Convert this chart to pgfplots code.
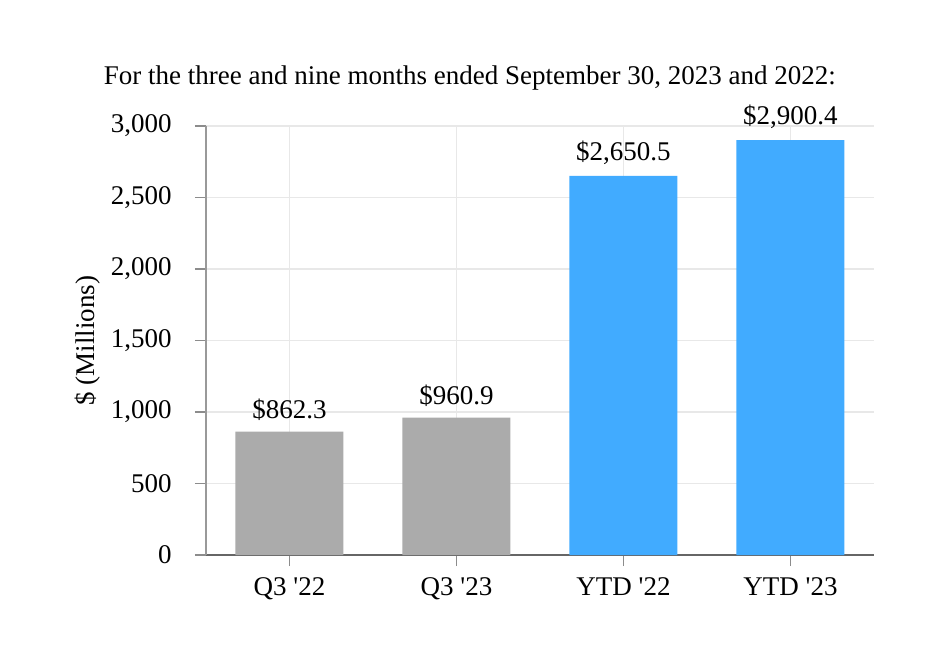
\documentclass[border=0pt]{standalone}
\usepackage{fontspec}
\setmainfont{Liberation Serif}
\usepackage{pgfplots}
\pgfplotsset{compat=1.18}
\definecolor{bargray}{HTML}{ABABAB}
\definecolor{barblue}{HTML}{41ABFF}
\definecolor{gridc}{HTML}{E8E8E8}
\newcommand{\q}{\textquotesingle}
\begin{document}
\fontsize{13.5}{16}\selectfont
\begin{tikzpicture}
  % 1 px of the reference = 0.5pt, axis origin at pixel (206,555)
  \useasboundingbox (-103pt,-55.5pt) rectangle (366pt,277.5pt);
  \begin{axis}[
      scale only axis, width=334pt, height=214.5pt,
      at={(0,0)}, anchor=south west,
      xmin=-0.5, xmax=3.5, ymin=0, ymax=3000,
      xtick={0,1,2,3},
      xticklabels={Q3 \q22, Q3 \q23, YTD \q22, YTD \q23},
      ytick={0,500,...,3000},
      /pgf/number format/assume math mode=true,
      /pgf/number format/1000 sep={,},
      yticklabel style={xshift=-7pt},
      xticklabel style={yshift=-1pt},
      axis lines=left,
      x axis line style={-, draw=black!60, line width=0.8pt},
      y axis line style={-, draw=black!40, line width=0.8pt},
      tick align=outside, major tick length=5.5pt,
      tick style={draw=black!45, line width=0.7pt},
      grid=major, major grid style={draw=gridc, line width=0.7pt},
      ylabel={\$ (Millions)},
      ylabel style={at={(axis description cs:-0.177,0.5)}, anchor=center},
      title={For the three and nine months ended September 30, 2023 and 2022:},
      title style={at={(axis description cs:0.395,1.084)}, anchor=center, yshift=0pt},
      ybar, bar width=54pt, bar shift=0pt,
      nodes near coords, point meta=explicit symbolic,
      every node near coord/.append style={anchor=south, yshift=1pt},
    ]
    \addplot[draw=none, fill=bargray] coordinates {
      (0,862.3) [\$862.3]
      (1,960.9) [\$960.9]
    };
    \addplot[draw=none, fill=barblue] coordinates {
      (2,2650.5) [\$2,650.5]
      (3,2900.4) [\$2,900.4]
    };
  \end{axis}
\end{tikzpicture}
\end{document}
